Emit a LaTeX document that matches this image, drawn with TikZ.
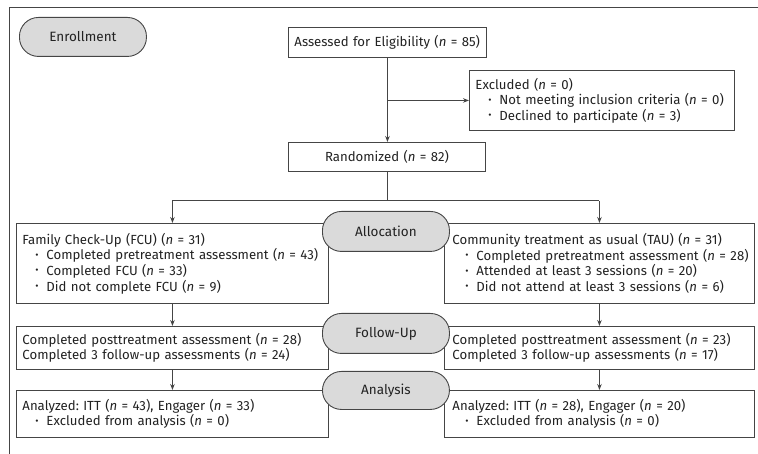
\documentclass[tikz,border=0pt]{standalone}
\usepackage{fontspec}
\setmainfont{Fira Sans}
\usetikzlibrary{arrows.meta}
\definecolor{edge}{HTML}{454545}
\definecolor{pillfill}{HTML}{DADADA}
\definecolor{ink}{HTML}{222222}
\newcommand{\nv}[1]{\textit{n}~=~#1}
\newcommand{\bl}{\hspace*{13pt}\makebox[11pt][l]{\raisebox{0.12em}{\scalebox{0.75}{•}}}}
\newcommand{\oneline}[1]{\mbox{#1}}
\frenchspacing
\hbadness=10000 \hfuzz=50pt
\begin{document}
\begin{tikzpicture}[x=1pt,y=-1pt,
  box/.style={draw=edge, line width=0.9pt, fill=white, anchor=north west, inner ysep=0pt, inner xsep=6pt, align=left, font=\fontsize{13.2}{15.6}\selectfont, text=ink},
  pill/.style={draw=edge, line width=0.9pt, fill=pillfill, rounded corners=19pt, anchor=north west, inner sep=0pt, font=\fontsize{13.5}{16}\selectfont, text=ink},
  arr/.style={draw=edge, line width=0.9pt, -{Stealth[length=6pt,width=4.5pt]}},
  ln/.style={draw=edge, line width=0.9pt}]
\useasboundingbox (0,0) rectangle (758,454);
\draw[ln] (9,454) -- (9,7) -- (758,7);
% boxes
\node[box, text width=186pt, minimum height=30pt] (assess) at (288,27) {\oneline{Assessed for Eligibility (\nv{85})}};
\node[box, text width=253pt, minimum height=60pt] (excl) at (469,70) {\oneline{Excluded (\nv{0})}\\ \oneline{\bl Not meeting inclusion criteria (\nv{0})}\\ \oneline{\bl Declined to participate (\nv{3})}};
\node[box, text width=185pt, align=center, minimum height=29pt] (rand) at (288,142) {\oneline{Randomized (\nv{82})}};
\node[box, text width=300pt, minimum height=80pt] (fcu) at (16,223) {\oneline{Family Check-Up (FCU) (\nv{31})}\\ \oneline{\bl Completed pretreatment assessment (\nv{43})}\\ \oneline{\bl Completed FCU (\nv{33})}\\ \oneline{\bl Did not complete FCU (\nv{9})}};
\node[box, inner xsep=8pt, text width=294pt, minimum height=80pt] (tau) at (444,223) {\oneline{Community treatment as usual (TAU) (\nv{31})}\\ \oneline{\bl Completed pretreatment assessment (\nv{28})}\\ \oneline{\bl Attended at least 3 sessions (\nv{20})}\\ \oneline{\bl Did not attend at least 3 sessions (\nv{6})}};
\node[box, text width=300pt, minimum height=43pt] (ful) at (16,326) {\oneline{Completed posttreatment assessment (\nv{28})}\\ \oneline{Completed 3 follow-up assessments (\nv{24})}};
\node[box, inner xsep=8pt, text width=294pt, minimum height=43pt] (fur) at (444,326) {\oneline{Completed posttreatment assessment (\nv{23})}\\ \oneline{Completed 3 follow-up assessments (\nv{17})}};
\node[box, text width=300pt, minimum height=47pt] (anl) at (16,390) {\oneline{Analyzed: ITT (\nv{43}), Engager (\nv{33})}\\ \oneline{\bl Excluded from analysis (\nv{0})}};
\node[box, inner xsep=8pt, text width=294pt, minimum height=47pt] (anr) at (444,390) {\oneline{Analyzed: ITT (\nv{28}), Engager (\nv{20})}\\ \oneline{\bl Excluded from analysis (\nv{0})}};
% connectors
\draw[arr] (assess.south) -- (assess.south |- rand.north);
\draw[arr] (assess.south |- excl.west) -- (excl.west);
\coordinate (split) at ([yshift=-29pt]rand.south);
\draw[ln] (rand.south) -- (split);
\draw[ln] (fcu.north |- split) -- (tau.north |- split);
\draw[arr] (fcu.north |- split) -- (fcu.north);
\draw[arr] (tau.north |- split) -- (tau.north);
\draw[arr] (fcu.south) -- (ful.north);
\draw[arr] (tau.south) -- (fur.north);
\draw[arr] (ful.south) -- (anl.north);
\draw[arr] (fur.south) -- (anr.north);
% pills
\node[pill, minimum width=127pt, minimum height=39pt] (enroll) at (19,17) {Enrollment};
\node[pill, minimum width=127pt, minimum height=40pt] (alloc) at (322,211) {Allocation};
\node[pill, minimum width=127pt, minimum height=40pt] (follow) at (322,313) {Follow-Up};
\node[pill, minimum width=127pt, minimum height=38pt] (analysis) at (322,371) {Analysis};
\end{tikzpicture}
\end{document}
